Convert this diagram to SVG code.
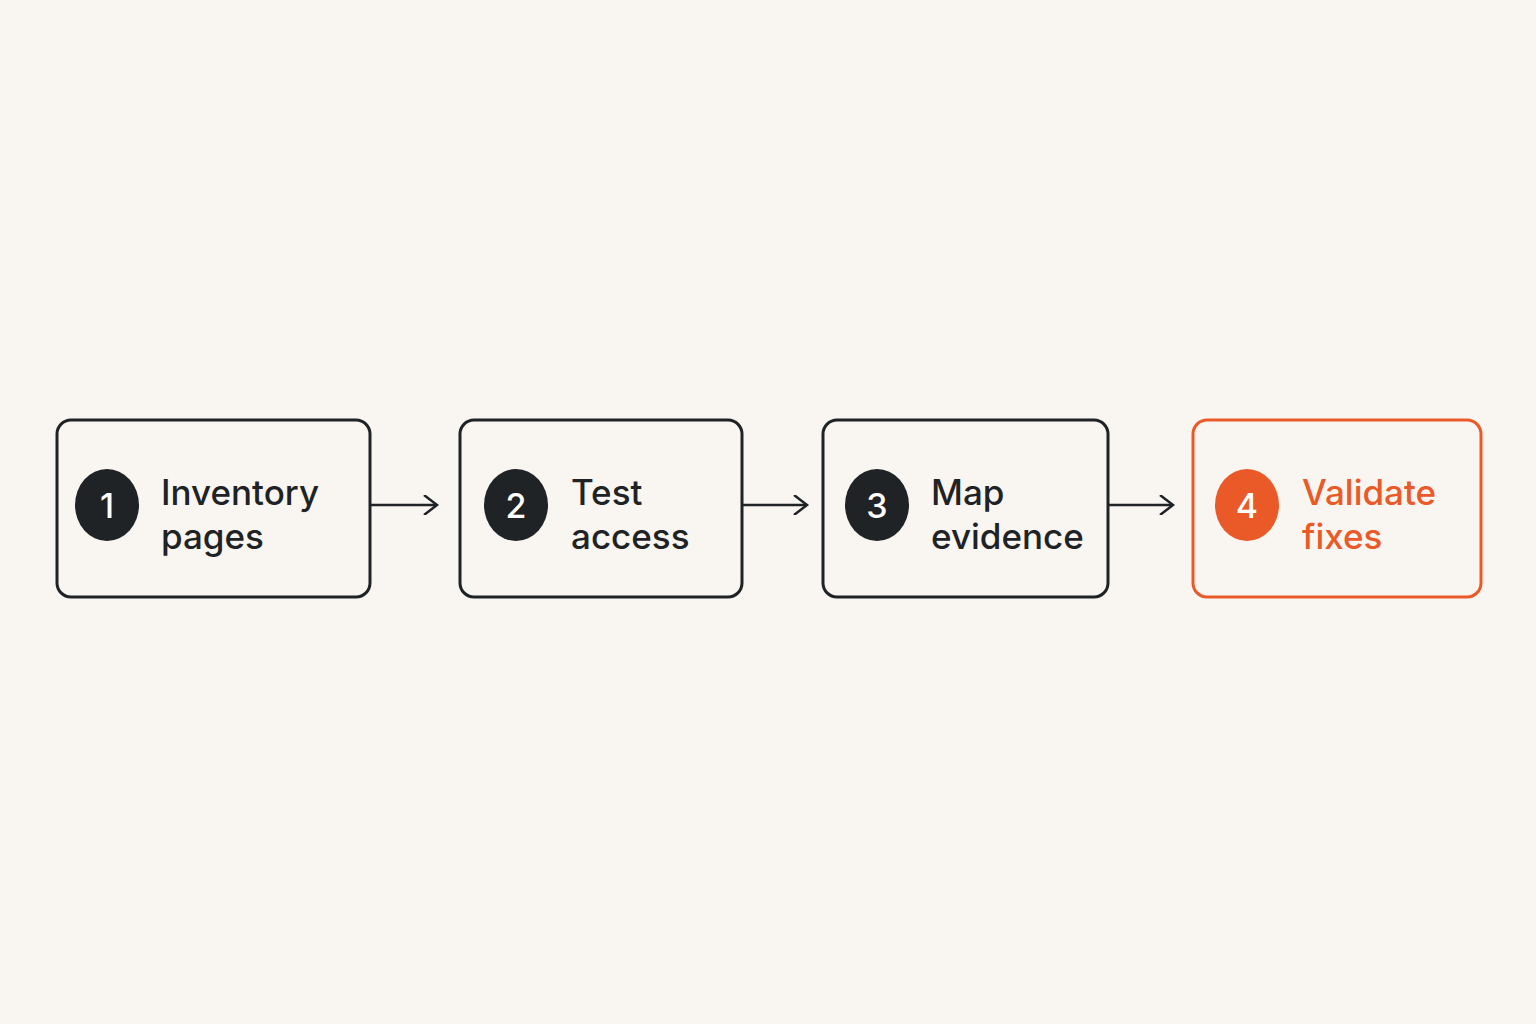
<svg xmlns="http://www.w3.org/2000/svg" width="1536" height="1024" viewBox="0 0 1536 1024">
<style>
.box{fill:none;stroke:#1f2326;stroke-width:3}
.obox{fill:none;stroke:#ea5a28;stroke-width:3}
.lbl{font-family:Inter,"Liberation Sans",sans-serif;font-size:35px;font-weight:500;fill:#1f2326}
.olbl{font-family:Inter,"Liberation Sans",sans-serif;font-size:35px;font-weight:500;fill:#ea5a28}
.num{font-family:Inter,"Liberation Sans",sans-serif;font-size:34px;font-weight:500;fill:#fff;text-anchor:middle}
.conn{stroke:#1f2326;stroke-width:2.5;fill:none}
</style>
<defs>
<marker id="arr" markerWidth="20" markerHeight="20" refX="14" refY="10" orient="auto" markerUnits="userSpaceOnUse">
<path d="M2,0 L15,10 L2,20" fill="none" stroke="#1f2326" stroke-width="2.5"/>
</marker>
</defs>
<rect width="1536" height="1024" fill="#f9f6f1"/>
<g id="n1"><rect class="box" x="57" y="420" width="313" height="177" rx="14"/><ellipse cx="107" cy="505" rx="32" ry="36" fill="#1f2326"/><text class="num" x="107" y="518">1</text><text class="lbl" x="161" y="505">Inventory</text><text class="lbl" x="161" y="549">pages</text></g>
<g id="n2"><rect class="box" x="460" y="420" width="282" height="177" rx="14"/><ellipse cx="516" cy="505" rx="32" ry="36" fill="#1f2326"/><text class="num" x="516" y="518">2</text><text class="lbl" x="571" y="505">Test</text><text class="lbl" x="571" y="549">access</text></g>
<g id="n3"><rect class="box" x="823" y="420" width="285" height="177" rx="14"/><ellipse cx="877" cy="505" rx="32" ry="36" fill="#1f2326"/><text class="num" x="877" y="518">3</text><text class="lbl" x="931" y="505">Map</text><text class="lbl" x="931" y="549">evidence</text></g>
<g id="n4"><rect class="obox" x="1193" y="420" width="288" height="177" rx="14"/><ellipse cx="1247" cy="505" rx="32" ry="36" fill="#ea5a28"/><text class="num" x="1247" y="518">4</text><text class="olbl" x="1302" y="505">Validate</text><text class="olbl" x="1302" y="549">fixes</text></g>
<g id="connectors">
<line class="conn" x1="370" y1="505" x2="436" y2="505" marker-end="url(#arr)"/>
<line class="conn" x1="742" y1="505" x2="806" y2="505" marker-end="url(#arr)"/>
<line class="conn" x1="1108" y1="505" x2="1172" y2="505" marker-end="url(#arr)"/>
</g>
</svg>
